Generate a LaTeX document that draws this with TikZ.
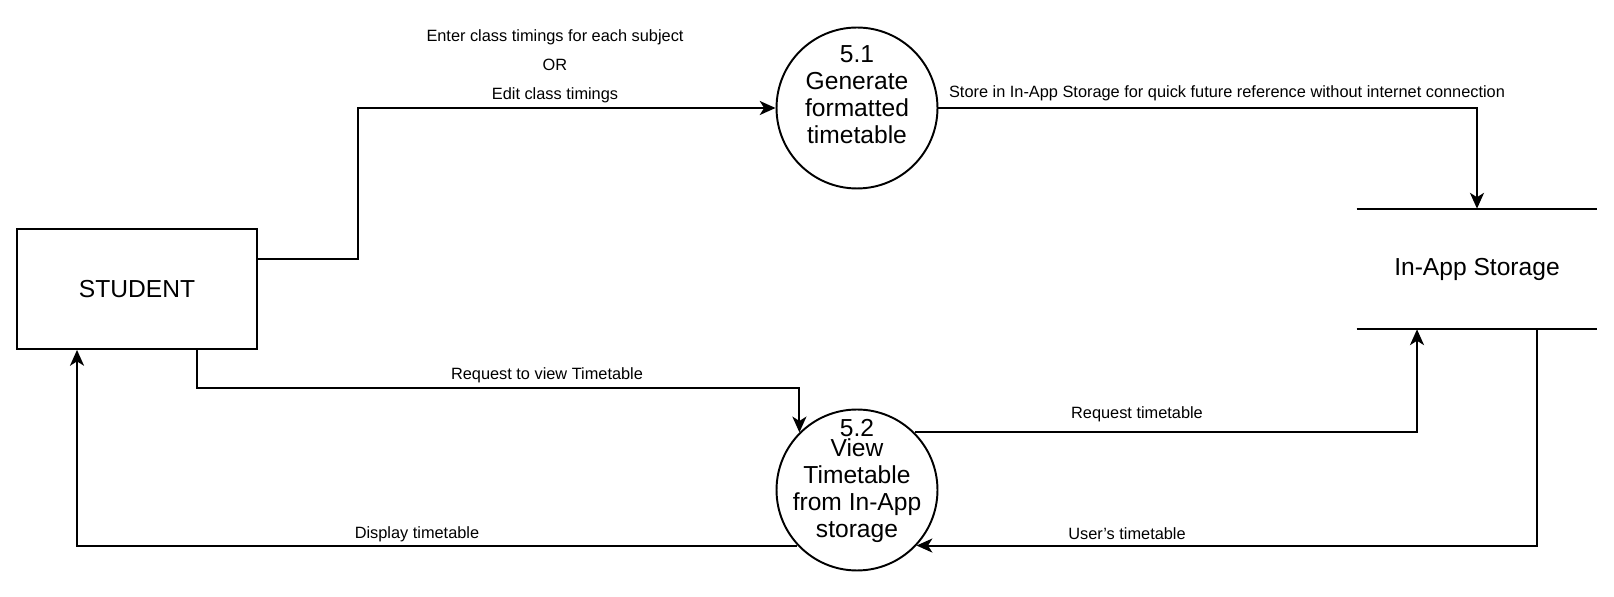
\documentclass[tikz,border=0pt]{standalone}
\usepackage{fontspec}
\setmainfont{Liberation Sans}
\usetikzlibrary{arrows.meta}

\tikzset{
  flow/.style={line width=1.1pt, -{Stealth[length=9pt,width=8pt,inset=2.5pt]}},
  entity/.style={draw, line width=1.1pt, minimum width=4.8cm, minimum height=2.4cm,
    font=\fontsize{14}{15.3}\selectfont},
  process/.style={draw, circle, line width=1.1pt, minimum size=3.22cm, inner sep=-10pt,
    align=center, font=\fontsize{14}{15.3}\selectfont},
  datastore/.style={minimum width=4.8cm, minimum height=2.4cm,
    font=\fontsize{14}{15.3}\selectfont},
  flowlabel/.style={align=center, font=\fontsize{9.3}{16.4}\selectfont}
}

\begin{document}
\begin{tikzpicture}[x=0.02cm,y=-0.02cm]
  \useasboundingbox (0,0) rectangle (1614,597);

  % Entities and processes
  \node[entity] (student) at (137,289) {STUDENT};
  \node[process] (c51) at (857,108) {5.1\\Generate\\formatted\\timetable\\\mbox{}};
  \node[process] (c52) at (857,490) {5.2\\[-4pt]View\\Timetable\\from In-App\\storage\\[-2pt]\mbox{}};

  % Data store
  \node[datastore] (store) at (1477,269) {In-App Storage};
  \draw[line width=1.1pt] (store.north west) -- (store.north east);
  \draw[line width=1.1pt] (store.south west) -- (store.south east);

  % Flows
  \coordinate (s1) at ([yshift=0.6cm]student.east);
  \coordinate (s2) at ([xshift=1.2cm]student.south);
  \draw[flow] (s1) -- ++(100,0) |- (c51.west);
  \draw[flow] (c51.east) -| (store.north);
  \draw[flow] (s2) -- ++(0,38) -| (c52.135);
  \draw[flow] (c52.45) -| ([xshift=-1.2cm]store.south);
  \draw[flow] ([xshift=1.2cm]store.south) |- (c52.-43);
  \draw[flow] (c52.-137) -| ([xshift=-1.2cm]student.south);

  % Labels
  \node[flowlabel] (l1) at (555,66) {Enter class timings for each subject\\OR\\Edit class timings};
  \node[flowlabel] (l2) at (1227,93) {Store in In-App Storage for quick future reference without internet connection};
  \node[flowlabel] (l3) at (547,375) {Request to view Timetable};
  \node[flowlabel] (l4) at (1137,414) {Request timetable};
  \node[flowlabel] (l5) at (1127,534) {User's timetable};
  \node[flowlabel] (l6) at (417,534) {Display timetable};

\end{tikzpicture}
\end{document}
